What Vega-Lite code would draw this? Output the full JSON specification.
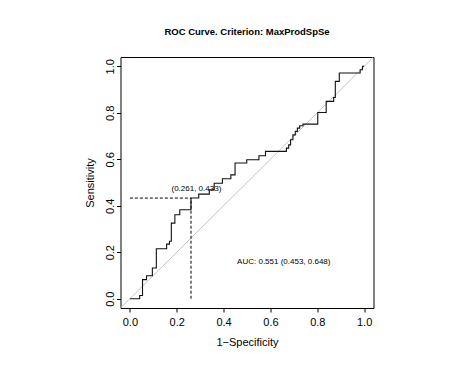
{
  "$schema": "https://vega.github.io/schema/vega-lite/v6.json",
  "width": 253,
  "height": 251,
  "autosize": "none",
  "padding": {"left": 120.5, "top": 57, "right": 84.5, "bottom": 70},
  "background": "white",
  "title": {"text": "ROC Curve. Criterion: MaxProdSpSe", "fontSize": 9.5, "fontWeight": "bold", "font": "Liberation Sans", "color": "#000", "offset": 21, "anchor": "middle"},
  "config": {
    "font": "Liberation Sans",
    "view": {"stroke": "#000", "strokeWidth": 1},
    "axis": {"grid": false, "domain": false, "tickColor": "#000", "tickSize": 4, "tickWidth": 1, "labelColor": "#000", "titleColor": "#000", "labelFontSize": 11, "titleFontSize": 11, "titleFontWeight": "normal", "labelFont": "Liberation Sans", "titleFont": "Liberation Sans"},
    "axisX": {"values": [0, 0.2, 0.4, 0.6, 0.8, 1], "format": ".1f", "labelPadding": 4, "titlePadding": 9},
    "axisY": {"values": [0, 0.2, 0.4, 0.6, 0.8, 1], "format": ".1f", "labelAngle": -90, "labelAlign": "center", "labelBaseline": "alphabetic", "labelPadding": 3.5, "titlePadding": 8.5}
  },
  "datasets": {
    "roc": [
      {"i": 0, "fpr": 0.0, "tpr": 0.0},
      {"i": 1, "fpr": 0.042, "tpr": 0.014},
      {"i": 2, "fpr": 0.054, "tpr": 0.082},
      {"i": 3, "fpr": 0.071, "tpr": 0.099},
      {"i": 4, "fpr": 0.096, "tpr": 0.132},
      {"i": 5, "fpr": 0.113, "tpr": 0.215},
      {"i": 6, "fpr": 0.157, "tpr": 0.235},
      {"i": 7, "fpr": 0.169, "tpr": 0.247},
      {"i": 8, "fpr": 0.177, "tpr": 0.325},
      {"i": 9, "fpr": 0.192, "tpr": 0.361},
      {"i": 10, "fpr": 0.213, "tpr": 0.383},
      {"i": 11, "fpr": 0.261, "tpr": 0.433},
      {"i": 12, "fpr": 0.294, "tpr": 0.45},
      {"i": 13, "fpr": 0.339, "tpr": 0.469},
      {"i": 14, "fpr": 0.36, "tpr": 0.497},
      {"i": 15, "fpr": 0.395, "tpr": 0.516},
      {"i": 16, "fpr": 0.431, "tpr": 0.533},
      {"i": 17, "fpr": 0.449, "tpr": 0.584},
      {"i": 18, "fpr": 0.499, "tpr": 0.598},
      {"i": 19, "fpr": 0.551, "tpr": 0.615},
      {"i": 20, "fpr": 0.579, "tpr": 0.634},
      {"i": 21, "fpr": 0.668, "tpr": 0.648},
      {"i": 22, "fpr": 0.678, "tpr": 0.662},
      {"i": 23, "fpr": 0.686, "tpr": 0.684},
      {"i": 24, "fpr": 0.696, "tpr": 0.705},
      {"i": 25, "fpr": 0.706, "tpr": 0.72},
      {"i": 26, "fpr": 0.715, "tpr": 0.734},
      {"i": 27, "fpr": 0.725, "tpr": 0.744},
      {"i": 28, "fpr": 0.739, "tpr": 0.751},
      {"i": 29, "fpr": 0.802, "tpr": 0.801},
      {"i": 30, "fpr": 0.838, "tpr": 0.849},
      {"i": 31, "fpr": 0.87, "tpr": 0.866},
      {"i": 32, "fpr": 0.877, "tpr": 0.935},
      {"i": 33, "fpr": 0.894, "tpr": 0.971},
      {"i": 34, "fpr": 0.983, "tpr": 0.985},
      {"i": 35, "fpr": 0.993, "tpr": 1.0},
      {"i": 36, "fpr": 1.0, "tpr": 1.0}
    ],
    "diag": [
      {"fpr": -0.04, "tpr": -0.04},
      {"fpr": 1.04, "tpr": 1.04}
    ],
    "cut": [
      {"fpr": 0.0, "fpr2": 0.261, "tpr": 0.433, "tpr2": 0.433},
      {"fpr": 0.261, "fpr2": 0.261, "tpr": 0.0, "tpr2": 0.433}
    ],
    "labels": [
      {"fpr": 0.284, "tpr": 0.472, "label": "(0.261, 0.433)"},
      {"fpr": 0.657, "tpr": 0.159, "label": "AUC: 0.551 (0.453, 0.648)"}
    ]
  },
  "encoding": {
    "x": {"field": "fpr", "type": "quantitative", "scale": {"domain": [-0.04, 1.04], "nice": false, "zero": false}, "title": "1\u2212Specificity"},
    "y": {"field": "tpr", "type": "quantitative", "scale": {"domain": [-0.04, 1.04], "nice": false, "zero": false}, "title": "Sensitivity"}
  },
  "layer": [
    {
      "data": {"name": "diag"},
      "mark": {"type": "line", "color": "#c4c4c4", "strokeWidth": 1, "clip": true}
    },
    {
      "data": {"name": "roc"},
      "mark": {"type": "line", "interpolate": "step-after", "color": "#111", "strokeWidth": 1.1},
      "encoding": {
        "order": {"field": "i", "type": "quantitative"}
      }
    },
    {
      "data": {"name": "cut"},
      "mark": {"type": "rule", "color": "#000", "strokeWidth": 1, "strokeDash": [3, 2]},
      "encoding": {
        "x2": {"field": "fpr2"},
        "y2": {"field": "tpr2"}
      }
    },
    {
      "data": {"name": "labels"},
      "mark": {"type": "text", "fontSize": 8, "color": "#000", "align": "center", "baseline": "middle", "font": "Liberation Sans"},
      "encoding": {
        "text": {"field": "label"}
      }
    }
  ]
}
